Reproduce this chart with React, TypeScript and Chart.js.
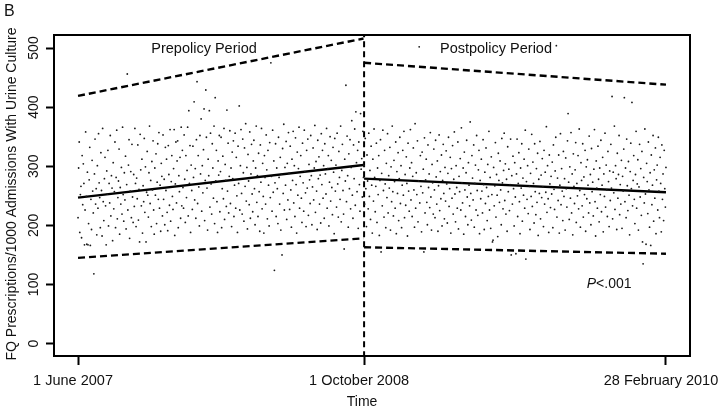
import React, { useEffect, useRef } from "react";
import { Chart, registerables } from "chart.js";

Chart.register(...registerables);

// Daily FQ prescriptions per 1000 admissions
// Prepolicy: day 0 (1 June 2007) .. day 487
const preValues: number[] = [
  213, 297, 341, 188, 252, 266, 179, 318, 235, 304, 271, 167, 226, 358, 249, 168, 290, 167, 203, 277,
  332, 166, 244, 193, 310, 258, 221, 118, 287, 346, 236, 262, 184, 301, 229, 355, 272, 247, 196, 323,
  259, 182, 364, 240, 208, 279, 315, 233, 167, 292, 253, 327, 199, 271, 238, 352, 216, 284, 263, 174,
  306, 228, 257, 341, 196, 281, 361, 211, 247, 275, 329, 185, 264, 236, 298, 219, 366, 252, 207, 289,
  243, 317, 194, 269, 456, 226, 302, 345, 178, 258, 291, 213, 337, 248, 205, 286, 232, 364, 271, 198,
  280, 245, 336, 209, 261, 172, 354, 294, 233, 312, 187, 267, 240, 347, 222, 299, 172, 256, 325, 251,
  214, 289, 368, 237, 276, 198, 308, 260, 343, 226, 185, 297, 251, 321, 203, 273, 338, 244, 357, 229,
  268, 190, 305, 283, 216, 353, 244, 278, 201, 332, 259, 312, 222, 191, 335, 286, 234, 362, 207, 274,
  318, 249, 227, 296, 362, 183, 270, 341, 238, 309, 343, 196, 284, 257, 315, 212, 366, 233, 327, 264,
  229, 353, 278, 205, 318, 247, 293, 366, 216, 394, 271, 335, 188, 302, 259, 227, 334, 281, 409, 243,
  296, 212, 345, 443, 237, 318, 265, 199, 352, 287, 380, 224, 301, 255, 328, 397, 208, 276, 429, 349,
  263, 192, 312, 284, 394, 231, 356, 270, 219, 338, 297, 246, 368, 203, 416, 275, 327, 240, 188, 309,
  285, 352, 223, 291, 349, 196, 262, 317, 245, 364, 210, 303, 276, 232, 395, 258, 339, 221, 283, 360,
  237, 297, 198, 324, 279, 343, 215, 268, 356, 229, 315, 250, 188, 334, 271, 402, 226, 301, 362, 254,
  219, 346, 289, 207, 331, 266, 372, 241, 298, 194, 320, 275, 235, 358, 212, 287, 337, 253, 223, 309,
  344, 262, 201, 297, 368, 239, 284, 215, 322, 257, 190, 336, 273, 364, 228, 305, 249, 187, 318, 281,
  236, 353, 294, 211, 327, 268, 199, 340, 247, 475, 283, 224, 361, 256, 309, 124, 272, 338, 215, 297,
  262, 203, 349, 281, 236, 315, 192, 287, 150, 330, 254, 371, 226, 298, 268, 342, 210, 305, 243, 357,
  288, 227, 334, 260, 197, 312, 276, 359, 238, 301, 215, 348, 269, 187, 324, 251, 296, 366, 229, 283,
  318, 246, 205, 339, 272, 224, 361, 291, 255, 198, 327, 263, 346, 217, 303, 277, 237, 352, 284, 201,
  265, 331, 243, 297, 369, 222, 308, 258, 193, 344, 279, 316, 236, 285, 204, 355, 269, 327, 246, 301,
  212, 338, 287, 253, 364, 229, 296, 318, 199, 273, 350, 241, 310, 264, 218, 332, 290, 186, 347, 258,
  302, 231, 356, 270, 214, 325, 281, 244, 368, 206, 293, 337, 259, 219, 160, 312, 275, 437, 240, 351,
  284, 197, 321, 262, 345, 228, 298, 377, 251, 212, 336, 279, 363, 234, 392, 306, 257, 327, 195, 341,
  269, 224, 389, 295, 313, 248, 359, 281,
];

// Postpolicy: day 488 (1 October 2008) .. day 1003 (28 February 2010)
const postValues: number[] = [
  301, 236, 347, 262, 198, 319, 275, 228, 356, 249, 293, 210, 334, 268, 187, 312, 241, 363, 281, 223,
  266, 339, 205, 297, 252, 318, 183, 276, 345, 155, 288, 233, 361, 259, 214, 327, 270, 196, 305, 247,
  355, 221, 284, 263, 332, 192, 299, 240, 368, 257, 216, 310, 274, 229, 341, 186, 291, 254, 323, 208,
  279, 349, 237, 301, 196, 268, 327, 251, 359, 213, 286, 234, 316, 271, 182, 339, 258, 224, 297, 362,
  243, 306, 215, 283, 331, 260, 197, 372, 229, 289, 252, 343, 206, 275, 502, 238, 318, 266, 189, 324,
  255, 295, 155, 348, 221, 277, 312, 239, 201, 336, 264, 287, 230, 357, 248, 192, 303, 272, 219, 329,
  260, 213, 344, 282, 236, 309, 190, 267, 353, 225, 291, 245, 319, 199, 276, 337, 254, 211, 298, 241,
  326, 270, 204, 288, 349, 232, 262, 315, 187, 296, 246, 335, 219, 278, 358, 253, 206, 301, 264, 229,
  341, 194, 283, 257, 313, 226, 365, 272, 238, 297, 185, 324, 260, 215, 289, 344, 248, 201, 306, 268,
  233, 375, 254, 209, 318, 280, 243, 336, 197, 271, 302, 226, 352, 259, 217, 294, 327, 186, 276, 245,
  312, 258, 221, 345, 269, 193, 290, 237, 331, 264, 208, 303, 249, 359, 226, 281, 195, 316, 252, 172,
  175, 298, 233, 267, 340, 214, 286, 251, 181, 322, 276, 239, 309, 260, 201, 347, 272, 228, 293, 356,
  242, 304, 219, 278, 190, 333, 257, 295, 225, 269, 346, 150, 284, 236, 317, 262, 199, 306, 248, 152,
  287, 346, 215, 271, 323, 240, 186, 297, 263, 338, 207, 280, 251, 312, 229, 361, 143, 274, 244, 301,
  220, 329, 266, 193, 288, 249, 354, 232, 307, 271, 204, 338, 257, 218, 296, 239, 322, 183, 278, 254,
  342, 211, 285, 247, 313, 265, 198, 327, 236, 290, 256, 367, 222, 301, 245, 188, 319, 270, 230, 283,
  253, 307, 196, 336, 261, 227, 292, 349, 504, 214, 280, 242, 319, 187, 268, 355, 235, 296, 258, 208,
  325, 249, 279, 192, 314, 262, 231, 343, 389, 273, 210, 299, 246, 357, 221, 287, 184, 321, 266, 237,
  294, 340, 205, 271, 250, 318, 228, 363, 259, 197, 306, 276, 233, 338, 214, 282, 252, 327, 190, 299,
  245, 311, 268, 221, 351, 238, 286, 201, 330, 257, 273, 216, 295, 362, 240, 182, 309, 263, 229, 334,
  278, 206, 297, 252, 344, 223, 268, 315, 189, 287, 249, 356, 231, 302, 260, 215, 325, 274, 198, 292,
  242, 337, 263, 418, 211, 290, 255, 368, 227, 301, 279, 193, 322, 246, 286, 352, 218, 269, 236, 310,
  195, 283, 258, 329, 416, 240, 297, 213, 346, 267, 225, 308, 251, 184, 291, 339, 262, 408, 233, 276,
  318, 244, 203, 286, 359, 229, 270, 311, 192, 265, 337, 248, 296, 217, 325, 172, 135, 281, 238, 363,
  253, 168, 305, 274, 220, 341, 260, 197, 289, 166, 319, 235, 268, 352, 207, 294, 246, 331, 186, 277,
  302, 226, 349, 258, 213, 315, 271, 189, 336, 244, 287, 208, 327, 262, 231, 298,
];

const policyDay = 488; // 1 October 2008
const lastDay = 1003; // 28 February 2010

// Segmented regression lines: [start, end]
const preFit = [247, 302];
const preUpper = [419, 516];
const preLower = [145, 178];
const postFit = [279, 256];
const postUpper = [475, 438];
const postLower = [163, 152];

const xTickValues = [0, policyDay, lastDay];
const xTickLabels = ["1 June 2007", "1 October 2008", "28 February 2010"];
const yTickValues = [0, 100, 200, 300, 400, 500];

const FONT = "'Liberation Sans', Arial, Helvetica, sans-serif";

export default function App() {
  const ref = useRef<HTMLCanvasElement | null>(null);

  useEffect(() => {
    if (!ref.current) return;
    const points = [
      ...preValues.map((v, i) => ({ x: i, y: v })),
      ...postValues.map((v, i) => ({ x: policyDay + i, y: v })),
    ];
    const seg = (a: number, b: number, vals: number[]) => [
      { x: a, y: vals[0] },
      { x: b, y: vals[1] },
    ];
    const solid = { showLine: true, borderColor: "#000", borderWidth: 2.4, pointRadius: 0, fill: false };
    const dashed = { ...solid, borderDash: [7, 4] };

    const overlay = {
      id: "overlay",
      afterDraw(chart: any) {
        const ctx = chart.ctx;
        const a = chart.chartArea;
        const xs = chart.scales.x;
        const ys = chart.scales.y;
        ctx.save();
        ctx.strokeStyle = "#000";
        ctx.lineWidth = 2;
        ctx.setLineDash([]);
        ctx.strokeRect(a.left, a.top, a.right - a.left, a.bottom - a.top);
        ctx.fillStyle = "#111";
        ctx.font = `14px ${FONT}`;
        ctx.textAlign = "center";
        ctx.textBaseline = "middle";
        yTickValues.forEach((v) => {
          const y = ys.getPixelForValue(v);
          ctx.save();
          ctx.translate(34, y);
          ctx.rotate(-Math.PI / 2);
          ctx.fillText(String(v), 0, 0);
          ctx.restore();
        });
        // x tick labels
        ctx.textBaseline = "alphabetic";
        ctx.font = `14.5px ${FONT}`;
        xTickValues.forEach((v, i) => {
          ctx.fillText(xTickLabels[i], xs.getPixelForValue(v) - 5, 385);
        });
        // y title
        ctx.font = `14px ${FONT}`;
        ctx.textBaseline = "middle";
        ctx.save();
        ctx.translate(12, 194);
        ctx.rotate(-Math.PI / 2);
        ctx.fillText("FQ Prescriptions/1000 Admissions With Urine Culture", 0, 0);
        ctx.restore();
        // x title
        ctx.textBaseline = "alphabetic";
        ctx.fillText("Time", xs.getPixelForValue(policyDay) - 2, 406);
        // period labels
        ctx.font = `14.5px ${FONT}`;
        ctx.fillText("Prepolicy Period", xs.getPixelForValue(215), ys.getPixelForValue(492));
        ctx.fillText("Postpolicy Period", xs.getPixelForValue(713), ys.getPixelForValue(492));
        // P value
        const px = xs.getPixelForValue(906);
        const py = ys.getPixelForValue(94);
        ctx.font = `italic 14px ${FONT}`;
        const wP = ctx.measureText("P").width;
        ctx.font = `14px ${FONT}`;
        const wR = ctx.measureText("<.001").width;
        const start = px - (wP + wR) / 2;
        ctx.textAlign = "left";
        ctx.font = `italic 14px ${FONT}`;
        ctx.fillText("P", start, py);
        ctx.font = `14px ${FONT}`;
        ctx.fillText("<.001", start + wP, py);
        // panel letter
        ctx.font = `16px ${FONT}`;
        ctx.fillText("B", 4, 16);
        ctx.restore();
      },
    };

    const chart = new Chart(ref.current, {
      type: "scatter",
      data: {
        datasets: [
          {
            data: points,
            pointRadius: 0.9,
            pointBorderWidth: 0,
            pointBackgroundColor: "#1a1a1a",
            showLine: false,
          } as any,
          { ...solid, data: seg(0, policyDay - 1, preFit) },
          { ...dashed, data: seg(0, policyDay - 1, preUpper) },
          { ...dashed, data: seg(0, policyDay - 1, preLower) },
          { ...solid, data: seg(policyDay, lastDay, postFit) },
          { ...dashed, data: seg(policyDay, lastDay, postUpper) },
          { ...dashed, data: seg(policyDay, lastDay, postLower) },
          {
            ...solid,
            borderWidth: 2,
            borderDash: [6, 4],
            data: [
              { x: policyDay, y: -40 },
              { x: policyDay, y: 560 },
            ],
          },
        ] as any,
      },
      options: {
        responsive: false,
        animation: false,
        events: [],
        layout: { padding: { top: 35, right: 30, left: 0, bottom: 0 } },
        plugins: { legend: { display: false }, tooltip: { enabled: false } },
        scales: {
          x: {
            type: "linear",
            min: -41,
            max: 1044,
            afterBuildTicks: (s: any) => {
              s.ticks = xTickValues.map((v) => ({ value: v }));
            },
            afterFit: (s: any) => {
              s.height = 53;
              s.paddingLeft = 0;
              s.paddingRight = 0;
            },
            grid: {
              drawOnChartArea: false,
              drawTicks: true,
              tickLength: 9,
              tickWidth: 2,
              tickColor: "#000",
            },
            border: { display: false },
            ticks: { display: false },
          },
          y: {
            type: "linear",
            min: -21,
            max: 522,
            afterBuildTicks: (s: any) => {
              s.ticks = yTickValues.map((v) => ({ value: v }));
            },
            afterFit: (s: any) => {
              s.width = 54;
              s.paddingTop = 0;
              s.paddingBottom = 0;
            },
            grid: {
              drawOnChartArea: false,
              drawTicks: true,
              tickLength: 8,
              tickWidth: 2,
              tickColor: "#000",
            },
            border: { display: false },
            ticks: { display: false },
          },
        },
      } as any,
      plugins: [overlay],
    });
    return () => chart.destroy();
  }, []);

  return (
    <div style={{ position: "absolute", left: 0, top: 0, width: 720, height: 409, background: "#fff" }}>
      <canvas ref={ref} width={720} height={409} style={{ display: "block" }} />
    </div>
  );
}
